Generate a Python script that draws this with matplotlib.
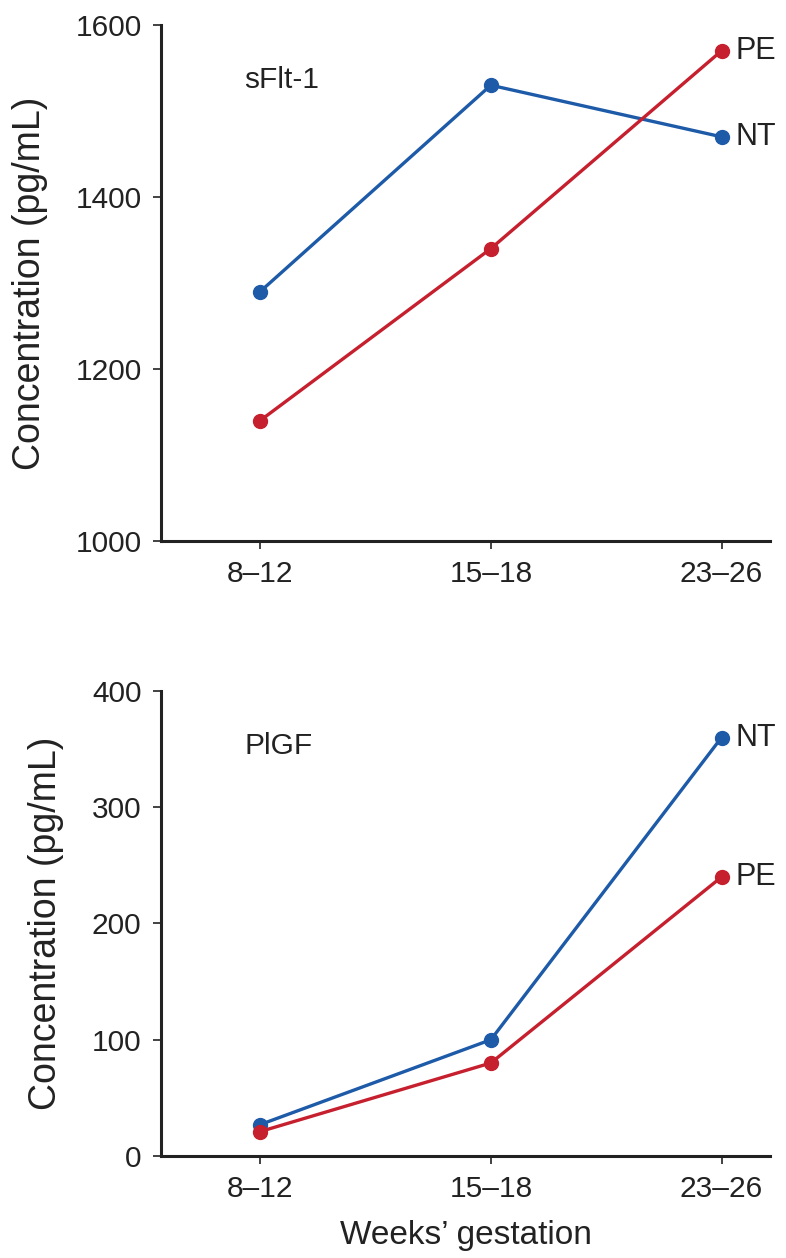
import matplotlib.pyplot as plt

plt.rcParams['font.family'] = ['Liberation Sans', 'DejaVu Sans']

weeks = ['8–12', '15–18', '23–26']
x = [0, 1, 2]

sflt_nt = [1290, 1530, 1470]
sflt_pe = [1140, 1340, 1570]

plgf_nt = [27, 100, 360]
plgf_pe = [21, 80, 240]

blue = '#1d5aa8'
red = '#c61f2e'
ink = '#222222'

fig = plt.figure(figsize=(7.86, 12.58), dpi=100)
ax1 = fig.add_axes([0.2048, 0.5700, 0.7748, 0.4101])
ax2 = fig.add_axes([0.2048, 0.0811, 0.7748, 0.3696])


def style(ax, ylim, yticks):
    ax.set_xlim(-0.43, 2.21)
    ax.set_ylim(*ylim)
    ax.set_yticks(yticks)
    ax.set_xticks(x)
    ax.set_xticklabels(weeks)
    for s in ['top', 'right']:
        ax.spines[s].set_visible(False)
    for s in ['left', 'bottom']:
        ax.spines[s].set_linewidth(2.2)
        ax.spines[s].set_color(ink)
    ax.tick_params(direction='out', length=6, width=1.2, colors=ink,
                   labelsize=21.5, pad=8)
    ax.set_ylabel('Concentration (pg/mL)', fontsize=27, color=ink, labelpad=20)


def series(ax, vals, color, name):
    ax.plot(x, vals, color=color, lw=2.4, marker='o', ms=10, zorder=3,
            clip_on=False)
    ax.annotate(name, (x[-1], vals[-1]), xytext=(10, 0),
                textcoords='offset points', va='center', ha='left',
                fontsize=22, color=ink, annotation_clip=False)


style(ax1, (1000, 1600), [1000, 1200, 1400, 1600])
series(ax1, sflt_nt, blue, 'NT')
series(ax1, sflt_pe, red, 'PE')
ax1.text(-0.07, 1536, 'sFlt-1', fontsize=21.5, color=ink, va='center')

style(ax2, (0, 400), [0, 100, 200, 300, 400])
series(ax2, plgf_nt, blue, 'NT')
series(ax2, plgf_pe, red, 'PE')
ax2.text(-0.07, 353, 'PlGF', fontsize=21.5, color=ink, va='center')
ax2.set_xlabel('Weeks’ gestation', fontsize=24, color=ink, labelpad=12)

fig.savefig('out.png', dpi=100)
